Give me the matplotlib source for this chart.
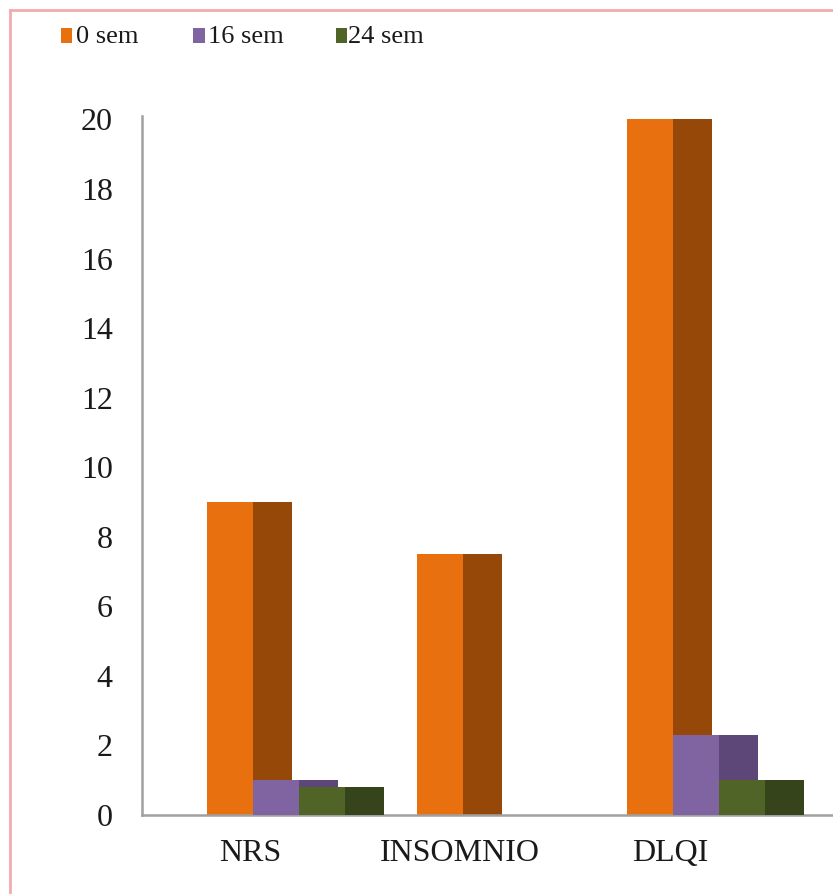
import matplotlib
matplotlib.use("Agg")
import matplotlib.pyplot as plt
from matplotlib.patches import Rectangle
from matplotlib.lines import Line2D

categories = ["NRS", "INSOMNIO", "DLQI"]
series_names = ["0 sem", "16 sem", "24 sem"]
values_0 = [9.0, 7.5, 20.0]
values_16 = [1.0, 0.0, 2.3]
values_24 = [0.8, 0.0, 1.0]
yticks = [0, 2, 4, 6, 8, 10, 12, 14, 16, 18, 20]

series = [values_0, values_16, values_24]
light_colors = ["#E8700E", "#8064A2", "#4F6426"]
dark_colors = ["#964808", "#5D4678", "#35441A"]

W, H = 833, 894
fig = plt.figure(figsize=(W / 100, H / 100), dpi=100)
fig.patch.set_facecolor("white")

font = "Liberation Serif"

ax = fig.add_axes([142 / W, (H - 815) / H, 1 - 142 / W, (815 - 116) / H])

offset = 46 / 210
light_w = 46 / 210
dark_w = 39 / 210
start = -43 / 210

for j, vals in enumerate(series):
    for i, v in enumerate(vals):
        left = i + start + j * offset
        ax.bar(left, v, width=light_w, align="edge", color=light_colors[j],
               linewidth=0, zorder=2 + j)
        ax.bar(left + light_w, v, width=dark_w, align="edge", color=dark_colors[j],
               linewidth=0, zorder=2 + j)

ax.set_xlim((142 - 250) / 210, (833 - 250) / 210)
ax.set_ylim(0, 20.1)
ax.set_yticks(yticks)
ax.set_yticklabels([str(t) for t in yticks], fontfamily=font, fontsize=23, color="#1a1a1a")
ax.set_xticks(range(len(categories)))
ax.set_xticklabels(categories, fontfamily=font, fontsize=23, color="#1a1a1a")
ax.tick_params(axis="both", length=0)
ax.tick_params(axis="y", pad=21)
ax.tick_params(axis="x", pad=17)
for s in ["top", "right"]:
    ax.spines[s].set_visible(False)
for s in ["left", "bottom"]:
    ax.spines[s].set_color("#A0A0A0")
    ax.spines[s].set_linewidth(1.8)
ax.set_facecolor("none")

# legend (manual, figure pixel coordinates)
leg_sq = [(61, 72), (193, 205), (336, 347)]
leg_tx = [76, 208, 348]
for (x0, x1), tx, name, c in zip(leg_sq, leg_tx, series_names, light_colors):
    fig.add_artist(Rectangle((x0 / W, 1 - 43 / H), (x1 - x0) / W, 15 / H,
                             transform=fig.transFigure, facecolor=c, edgecolor="none"))
    fig.text(tx / W, 1 - 37 / H, name, fontfamily=font, fontsize=19,
             va="center", ha="left", color="#1a1a1a")

# pink border
fig.add_artist(Line2D([10 / W, 10 / W], [0, 1 - 10 / H], transform=fig.transFigure,
                      color="#F4AAAA", linewidth=2))
fig.add_artist(Line2D([10 / W, 1], [1 - 10 / H, 1 - 10 / H], transform=fig.transFigure,
                      color="#F4AAAA", linewidth=2))

fig.savefig("out.png", dpi=100, facecolor="white")
